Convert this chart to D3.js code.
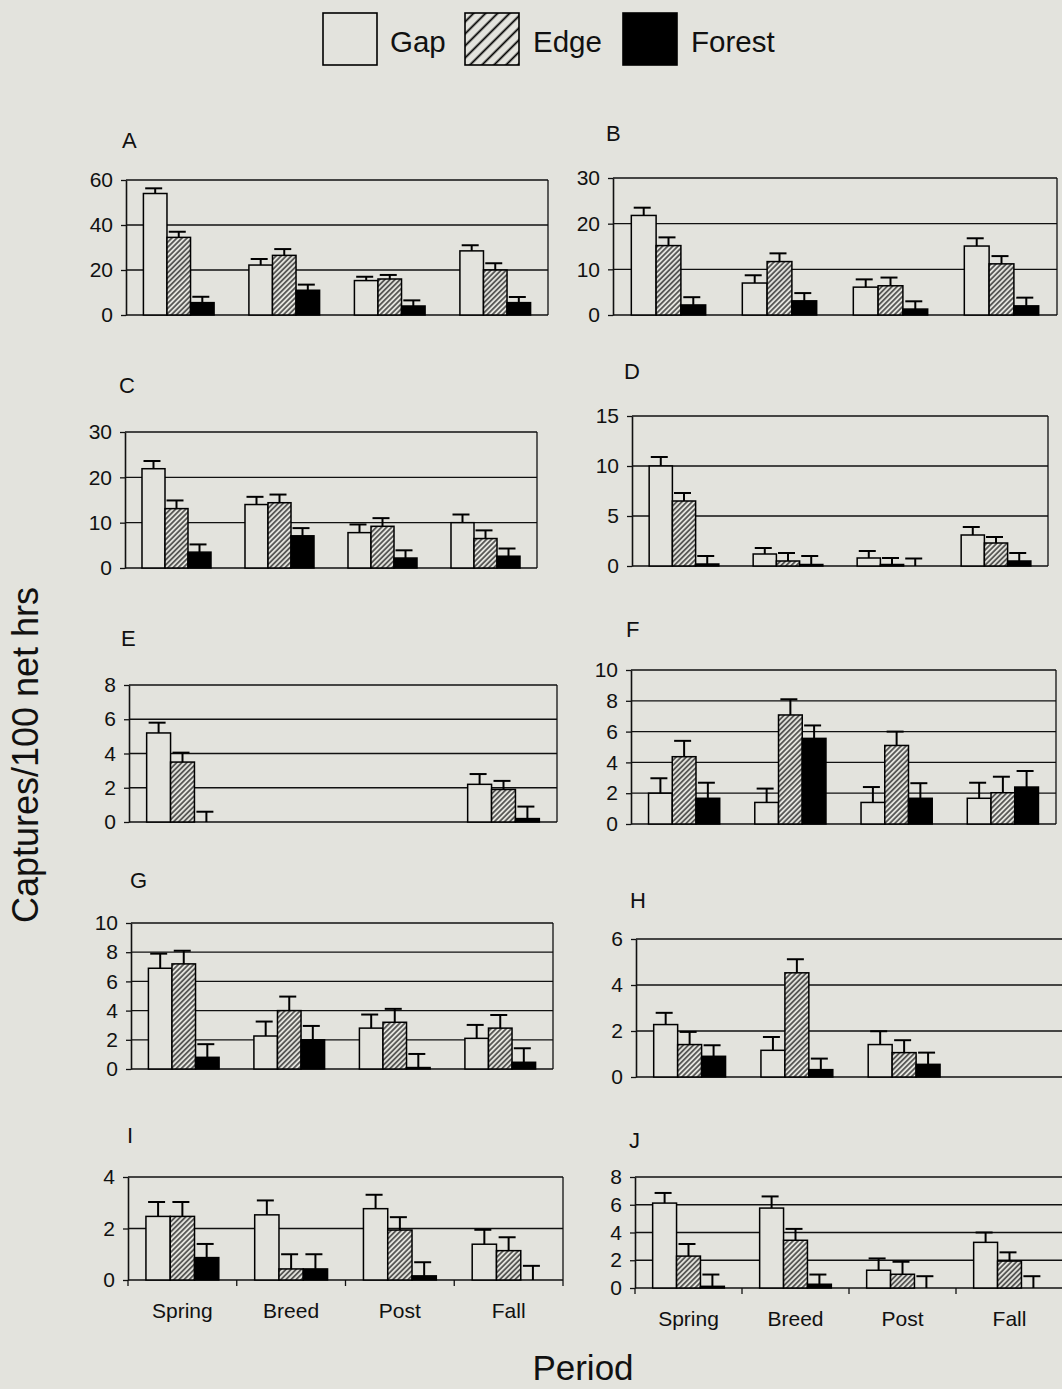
<!DOCTYPE html>
<html><head><meta charset="utf-8">
<script src="https://cdn.jsdelivr.net/npm/d3@7"></script>
<style>body{margin:0;background:#e3e3dd}svg{display:block}</style>
</head><body><svg id="c" width="1062" height="1389"></svg>
<script>
const periods = ["Spring", "Breed", "Post", "Fall"];
const habitats = ["Gap", "Edge", "Forest"];
const yTitle = "Captures/100 net hrs";
const xTitle = "Period";

// means: one row per habitat (Gap, Edge, Forest), one value per period
// err: top of the error bar (mean + SE)
const meanA = [[54, 22.2, 15.3, 28.5], [34.5, 26.5, 16, 20], [5.5, 11, 4, 5.5]];
const errA  = [[56.3, 24.9, 17, 31], [37, 29.3, 17.8, 23], [8.1, 13.5, 6.5, 8]];
const ticksA = [0, 20, 40, 60];

const meanB = [[21.8, 7.0, 6.1, 15.1], [15.2, 11.7, 6.4, 11.2], [2.2, 3.1, 1.3, 2.0]];
const errB  = [[23.5, 8.7, 7.8, 16.8], [17, 13.5, 8.2, 12.9], [3.9, 4.8, 3.0, 3.8]];
const ticksB = [0, 10, 20, 30];

const meanC = [[21.9, 14.0, 7.8, 10.0], [13.1, 14.4, 9.2, 6.5], [3.5, 7.1, 2.2, 2.6]];
const errC  = [[23.6, 15.7, 9.6, 11.8], [14.9, 16.2, 11.0, 8.3], [5.2, 8.8, 3.9, 4.3]];
const ticksC = [0, 10, 20, 30];

const meanD = [[10.0, 1.2, 0.8, 3.1], [6.5, 0.5, 0.15, 2.3], [0.2, 0.15, 0, 0.5]];
const errD  = [[10.9, 1.8, 1.5, 3.9], [7.3, 1.3, 0.8, 2.9], [1.0, 1.0, 0.75, 1.3]];
const ticksD = [0, 5, 10, 15];

const meanE = [[5.2, null, null, 2.2], [3.5, null, null, 1.9], [0, null, null, 0.2]];
const errE  = [[5.8, null, null, 2.8], [4.05, null, null, 2.4], [0.6, null, null, 0.9]];
const ticksE = [0, 2, 4, 6, 8];

const meanF = [[2.0, 1.4, 1.4, 1.67], [4.37, 7.08, 5.1, 2.03], [1.67, 5.56, 1.67, 2.4]];
const errF  = [[2.97, 2.3, 2.4, 2.68], [5.4, 8.1, 6.0, 3.07], [2.68, 6.4, 2.65, 3.44]];
const ticksF = [0, 2, 4, 6, 8, 10];

const meanG = [[6.9, 2.26, 2.8, 2.1], [7.2, 4.0, 3.2, 2.8], [0.8, 2.0, 0.1, 0.46]];
const errG  = [[7.9, 3.25, 3.73, 3.02], [8.1, 4.96, 4.12, 3.7], [1.7, 2.95, 1.03, 1.42]];
const ticksG = [0, 2, 4, 6, 8, 10];

const meanH = [[2.28, 1.16, 1.41, null], [1.41, 4.53, 1.06, null], [0.9, 0.32, 0.55, null]];
const errH  = [[2.79, 1.74, 1.99, null], [1.96, 5.12, 1.6, null], [1.38, 0.8, 1.06, null]];
const ticksH = [0, 2, 4, 6];

const meanI = [[2.47, 2.53, 2.77, 1.39], [2.47, 0.43, 1.94, 1.14], [0.87, 0.43, 0.16, 0]];
const errI  = [[3.03, 3.09, 3.31, 1.95], [3.03, 1.0, 2.44, 1.66], [1.4, 1.0, 0.69, 0.55]];
const ticksI = [0, 2, 4];

const meanJ = [[6.12, 5.76, 1.28, 3.29], [2.3, 3.44, 0.99, 1.94], [0.12, 0.27, 0, 0]];
const errJ  = [[6.85, 6.6, 2.13, 4.0], [3.17, 4.26, 1.89, 2.57], [0.97, 0.97, 0.85, 0.85]];
const ticksJ = [0, 2, 4, 6, 8];

// layout (pixel boxes: left, top, right, zero-line) and letter position
const panels = [
  {id: "A", mean: meanA, err: errA, ticks: ticksA, box: [126, 180, 548, 315], lab: [122, 148], xt: false},
  {id: "B", mean: meanB, err: errB, ticks: ticksB, box: [613, 178, 1057, 315], lab: [606, 141], xt: false},
  {id: "C", mean: meanC, err: errC, ticks: ticksC, box: [125, 432, 537, 568], lab: [119, 393], xt: false},
  {id: "D", mean: meanD, err: errD, ticks: ticksD, box: [632, 416, 1048, 566], lab: [624, 379], xt: false},
  {id: "E", mean: meanE, err: errE, ticks: ticksE, box: [129, 685, 557, 822], lab: [121, 646], xt: false},
  {id: "F", mean: meanF, err: errF, ticks: ticksF, box: [631, 670, 1056, 824], lab: [626, 637], xt: false},
  {id: "G", mean: meanG, err: errG, ticks: ticksG, box: [131, 923, 553, 1069], lab: [130, 888], xt: false},
  {id: "H", mean: meanH, err: errH, ticks: ticksH, box: [636, 939, 1065, 1077], lab: [630, 908], xt: false},
  {id: "I", mean: meanI, err: errI, ticks: ticksI, box: [128, 1177, 563, 1280], lab: [127, 1143], xt: true, catY: 1318},
  {id: "J", mean: meanJ, err: errJ, ticks: ticksJ, box: [635, 1177, 1063, 1288], lab: [629, 1148], xt: true, catY: 1326}
];

const FONT = "'Liberation Sans', Arial, Helvetica, sans-serif";
const BG = "#e3e3dd";
const svg = d3.select("#c");
svg.append("rect").attr("width", 1062).attr("height", 1389).attr("fill", BG);

const defs = svg.append("defs");
function hatch(id, spacing, sw) {
  const p = defs.append("pattern").attr("id", id).attr("patternUnits", "userSpaceOnUse")
    .attr("width", spacing).attr("height", 20).attr("patternTransform", "rotate(45)");
  p.append("rect").attr("width", spacing).attr("height", 20).attr("fill", BG);
  p.append("line").attr("x1", spacing / 2).attr("x2", spacing / 2).attr("y1", 0).attr("y2", 20)
    .attr("stroke", "#000").attr("stroke-width", sw);
}
hatch("hatchBar", 3.6, 1.1);
hatch("hatchLeg", 8.5, 1.8);
const fills = {Gap: BG, Edge: "url(#hatchBar)", Forest: "#000"};
const legFills = {Gap: BG, Edge: "url(#hatchLeg)", Forest: "#000"};

// legend
const legPos = [[323, 390], [465, 533], [623, 691]];
habitats.forEach((h, i) => {
  svg.append("rect").attr("x", legPos[i][0]).attr("y", 13).attr("width", 54).attr("height", 52)
    .attr("fill", legFills[h]).attr("stroke", "#000").attr("stroke-width", 1.6);
  svg.append("text").attr("x", legPos[i][1]).attr("y", 52).text(h)
    .attr("font-family", FONT).attr("font-size", 29.5).attr("fill", "#111");
});

// axis titles
svg.append("text").attr("transform", "translate(38,755) rotate(-90)").attr("text-anchor", "middle")
  .attr("font-family", FONT).attr("font-size", 36).attr("fill", "#111").text(yTitle);
svg.append("text").attr("x", 583).attr("y", 1380).attr("text-anchor", "middle")
  .attr("font-family", FONT).attr("font-size", 35).attr("fill", "#111").text(xTitle);

panels.forEach(p => {
  const [l, t, r, b] = p.box;
  const g = svg.append("g");
  const yMax = d3.max(p.ticks);
  const y = d3.scaleLinear().domain([0, yMax]).range([b, t]);
  const x0 = d3.scaleBand().domain(periods).range([l, r]).paddingInner(0.33).paddingOuter(0.165);
  const x1 = d3.scaleBand().domain(habitats).range([0, x0.bandwidth()]);

  // gridlines
  g.selectAll("line.grid").data(p.ticks).join("line").attr("class", "grid")
    .attr("x1", l).attr("x2", r).attr("y1", d => y(d)).attr("y2", d => y(d))
    .attr("stroke", "#111").attr("stroke-width", 1.3);
  // right border
  g.append("line").attr("x1", r).attr("x2", r).attr("y1", t).attr("y2", b)
    .attr("stroke", "#111").attr("stroke-width", 1.3);

  // y axis
  const ax = g.append("g").attr("transform", `translate(${l},0)`)
    .call(d3.axisLeft(y).tickValues(p.ticks).tickFormat(d3.format("d")).tickSize(5).tickSizeOuter(0).tickPadding(8));
  ax.select(".domain").attr("stroke", "#111").attr("stroke-width", 1.6);
  ax.selectAll(".tick line").attr("stroke", "#111").attr("stroke-width", 1.3);
  ax.selectAll(".tick text").attr("font-family", FONT).attr("font-size", 21).attr("fill", "#111");

  // bars
  const rows = [];
  habitats.forEach((h, hi) => periods.forEach((per, pi) => {
    const v = p.mean[hi][pi];
    if (v !== null) rows.push({h, per, v, e: p.err[hi][pi]});
  }));
  const bg = g.append("g");
  bg.selectAll("rect").data(rows).join("rect")
    .attr("x", d => x0(d.per) + x1(d.h)).attr("width", x1.bandwidth())
    .attr("y", d => y(d.v)).attr("height", d => y(0) - y(d.v))
    .attr("fill", d => fills[d.h]).attr("stroke", "#000").attr("stroke-width", 1.5);

  // error bars
  const eg = g.append("g").attr("stroke", "#000").attr("stroke-width", 2);
  rows.forEach(d => {
    const cx = x0(d.per) + x1(d.h) + x1.bandwidth() / 2;
    eg.append("line").attr("x1", cx).attr("x2", cx).attr("y1", y(d.v)).attr("y2", y(d.e));
    eg.append("line").attr("x1", cx - 10).attr("x2", cx + 7).attr("y1", y(d.e)).attr("y2", y(d.e));
  });

  // panel letter
  svg.append("text").attr("x", p.lab[0]).attr("y", p.lab[1]).text(p.id)
    .attr("font-family", FONT).attr("font-size", 22).attr("fill", "#111");

  if (p.xt) {
    const step = x0.step();
    const bounds = d3.range(periods.length + 1).map(i => l + i * step);
    g.selectAll("line.xt").data(bounds).join("line").attr("class", "xt")
      .attr("x1", d => d).attr("x2", d => d).attr("y1", b).attr("y2", b + 6)
      .attr("stroke", "#111").attr("stroke-width", 1.3);
    g.selectAll("text.cat").data(periods).join("text").attr("class", "cat")
      .attr("x", d => x0(d) + x0.bandwidth() / 2).attr("y", p.catY).attr("text-anchor", "middle")
      .attr("font-family", FONT).attr("font-size", 21).attr("fill", "#111").text(d => d);
  }
});
</script></body></html>
